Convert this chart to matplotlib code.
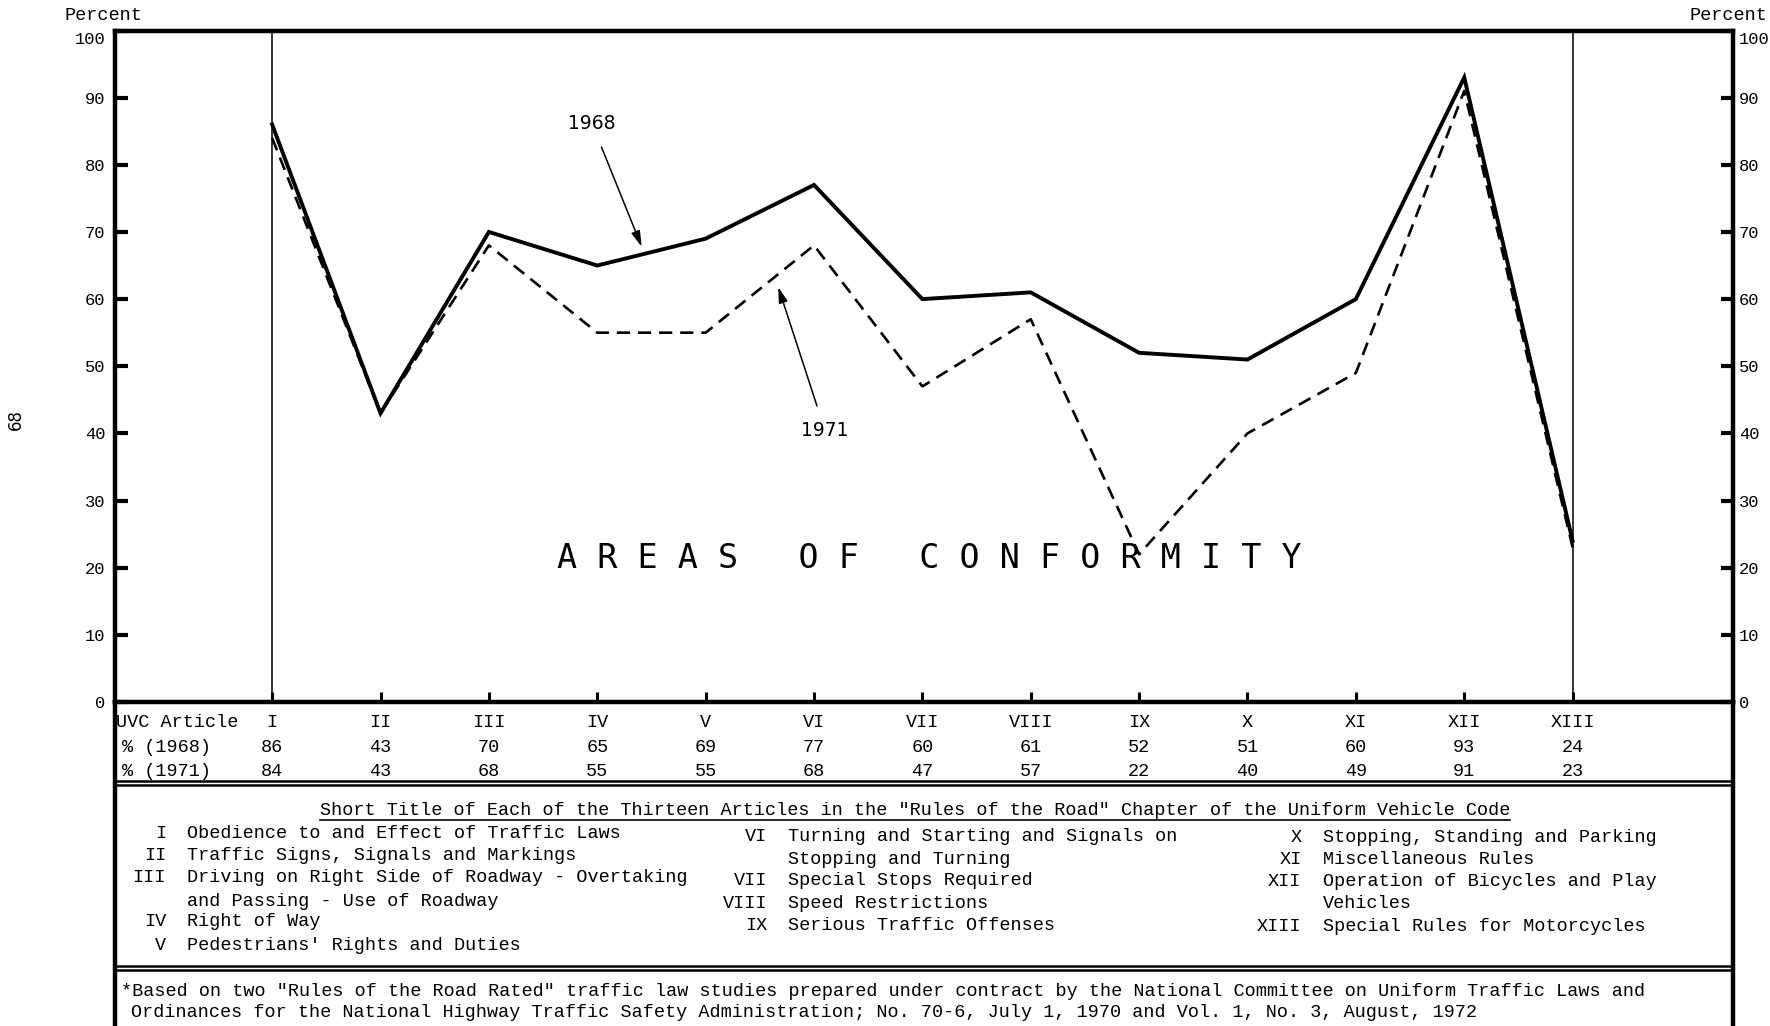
import matplotlib
matplotlib.use("Agg")
import matplotlib.pyplot as plt
from matplotlib.lines import Line2D
from matplotlib.transforms import blended_transform_factory, ScaledTranslation

# ---------------- data ----------------
articles = ["I", "II", "III", "IV", "V", "VI", "VII", "VIII", "IX", "X", "XI", "XII", "XIII"]
pct_1968 = [86, 43, 70, 65, 69, 77, 60, 61, 52, 51, 60, 93, 24]
pct_1971 = [84, 43, 68, 55, 55, 68, 47, 57, 22, 40, 49, 91, 23]
y_ticks = [0, 10, 20, 30, 40, 50, 60, 70, 80, 90, 100]

titles_col1 = [("I", "Obedience to and Effect of Traffic Laws"),
               ("II", "Traffic Signs, Signals and Markings"),
               ("III", "Driving on Right Side of Roadway - Overtaking"),
               ("", "and Passing - Use of Roadway"),
               ("IV", "Right of Way"),
               ("V", "Pedestrians' Rights and Duties")]
titles_col2 = [("VI", "Turning and Starting and Signals on"),
               ("", "Stopping and Turning"),
               ("VII", "Special Stops Required"),
               ("VIII", "Speed Restrictions"),
               ("IX", "Serious Traffic Offenses")]
titles_col3 = [("X", "Stopping, Standing and Parking"),
               ("XI", "Miscellaneous Rules"),
               ("XII", "Operation of Bicycles and Play"),
               ("", "Vehicles"),
               ("XIII", "Special Rules for Motorcycles")]
legend_title = ('Short Title of Each of the Thirteen Articles in the "Rules of the Road" '
                'Chapter of the Uniform Vehicle Code')
footnote = ['*Based on two "Rules of the Road Rated" traffic law studies prepared under contract '
            'by the National Committee on Uniform Traffic Laws and',
            'Ordinances for the National Highway Traffic Safety Administration; No. 70-6, '
            'July 1, 1970 and Vol. 1, No. 3, August, 1972']

# ---------------- figure ----------------
W, H = 1770, 1026
fig = plt.figure(figsize=(W / 100, H / 100), dpi=100)
fig.patch.set_facecolor("white")

MONO = ["Liberation Mono", "DejaVu Sans Mono"]
FS = 13.3


def fx(px):
    return px / W


def fy(py):
    return 1 - py / H


ax_left, ax_right, ax_top, ax_bot = 115, 1733, 30.5, 702
ax = fig.add_axes([fx(ax_left), fy(ax_bot), fx(ax_right - ax_left), (ax_bot - ax_top) / H])

x = list(range(len(articles)))
ax.plot(x, pct_1968, color="black", lw=2.8, solid_joinstyle="miter")
ax.plot(x, pct_1971, color="black", lw=1.9, dashes=(5, 3))
ax.axvline(0, color="black", lw=1.1)
ax.axvline(len(articles) - 1, color="black", lw=1.1)

ax.set_xlim(-1.45, 13.48)
ax.set_ylim(0, 100)
for s in ax.spines.values():
    s.set_linewidth(3.2)
ax.set_yticks(y_ticks)
ax.set_yticklabels([str(v) for v in y_ticks], fontfamily=MONO, fontsize=12.3)
ax.tick_params(axis="y", direction="in", length=9, width=3, left=True, right=True,
               labelleft=True, labelright=True, pad=7)
ax.set_xticks(x)
ax.set_xticklabels([])
ax.tick_params(axis="x", direction="in", length=7, width=2.2)

# right-hand labels sit closer to the frame; the "100" labels sit a little lower
ticks = ax.yaxis.get_major_ticks()
for i, tk in enumerate(ticks):
    dy = -7 / 100 if i == len(ticks) - 1 else 0
    tk.label1.set_transform(tk.label1.get_transform() +
                            ScaledTranslation(0, dy, fig.dpi_scale_trans))
    tk.label2.set_transform(tk.label2.get_transform() +
                            ScaledTranslation(-4 / 100, dy, fig.dpi_scale_trans))

# annotations
ax.annotate("1968", xy=(3.41, 67.8), xytext=(2.95, 86.2), ha="center", va="center",
            fontsize=13.5, family="DejaVu Sans",
            arrowprops=dict(arrowstyle="-|>,head_length=0.7,head_width=0.2", lw=1.1,
                            color="black", shrinkA=9, shrinkB=0))
ax.annotate("1971", xy=(4.67, 61.8), xytext=(5.10, 40.5), ha="center", va="center",
            fontsize=13.5, family="DejaVu Sans",
            arrowprops=dict(arrowstyle="-|>,head_length=0.7,head_width=0.2", lw=1.1,
                            color="black", shrinkA=9, shrinkB=0))

fig.text(fx(929), fy(558), "A R E A S   O F   C O N F O R M I T Y", ha="center", va="center",
         fontsize=24, family="DejaVu Sans Mono")

# Percent labels
fig.text(fx(103), fy(16), "Percent", ha="center", va="center", family=MONO, fontsize=FS)
fig.text(fx(1728), fy(15), "Percent", ha="center", va="center", family=MONO, fontsize=FS)

# page number
fig.text(fx(16), fy(420), "68", rotation=90, ha="center", va="center", family="DejaVu Sans",
         fontsize=12)

# ---------------- table below axis ----------------
bt = blended_transform_factory(ax.transData, fig.transFigure)
fig.text(fx(116), fy(722.5), "UVC Article", ha="left", va="center", family=MONO, fontsize=FS)
fig.text(fx(122), fy(747), "% (1968)", ha="left", va="center", family=MONO, fontsize=FS)
fig.text(fx(122), fy(771), "% (1971)", ha="left", va="center", family=MONO, fontsize=FS)
for i, art in enumerate(articles):
    fig.text(i, fy(722.5), art, transform=bt, ha="center", va="center", family=MONO, fontsize=FS)
    fig.text(i, fy(747), str(pct_1968[i]), transform=bt, ha="center", va="center", family=MONO,
             fontsize=FS)
    fig.text(i, fy(771), str(pct_1971[i]), transform=bt, ha="center", va="center", family=MONO,
             fontsize=FS)


def hline(py, lw=1.8):
    fig.add_artist(Line2D([fx(ax_left), fx(ax_right)], [fy(py), fy(py)], color="black", lw=lw,
                          transform=fig.transFigure))


def vline(px, y0, y1, lw=3.2):
    fig.add_artist(Line2D([fx(px), fx(px)], [fy(y0), fy(y1)], color="black", lw=lw,
                          transform=fig.transFigure))


vline(ax_left, ax_bot, H)
vline(ax_right, ax_bot, H)
hline(781)
hline(785)
hline(965.5)
hline(969.5)

# ---------------- legend of article titles ----------------
t = fig.text(fx(915), fy(810.5), legend_title, ha="center", va="center", family=MONO, fontsize=FS)
fig.canvas.draw()
bb = t.get_window_extent(renderer=fig.canvas.get_renderer())
uy = bb.y0 - 1
fig.add_artist(Line2D([bb.x0 / W, bb.x1 / W], [uy / H, uy / H], color="black", lw=1.2,
                      transform=fig.transFigure))

rows1 = [833, 855.6, 878, 901, 922, 945]
rows2 = [836.5, 859, 880.5, 903, 925.6]
rows3 = [837.6, 859, 881.6, 904, 926.8]
for (num, txt), yy in zip(titles_col1, rows1):
    fig.text(fx(166), fy(yy), num, ha="right", va="center", family=MONO, fontsize=FS)
    fig.text(fx(187), fy(yy), txt, ha="left", va="center", family=MONO, fontsize=FS)
for (num, txt), yy in zip(titles_col2, rows2):
    fig.text(fx(767.6), fy(yy), num, ha="right", va="center", family=MONO, fontsize=FS)
    fig.text(fx(788), fy(yy), txt, ha="left", va="center", family=MONO, fontsize=FS)
for (num, txt), yy in zip(titles_col3, rows3):
    fig.text(fx(1301.5), fy(yy), num, ha="right", va="center", family=MONO, fontsize=FS)
    fig.text(fx(1323), fy(yy), txt, ha="left", va="center", family=MONO, fontsize=FS)

# ---------------- footnote ----------------
fig.text(fx(121), fy(991), footnote[0], ha="left", va="center", family=MONO, fontsize=FS)
fig.text(fx(131), fy(1012.5), footnote[1], ha="left", va="center", family=MONO, fontsize=FS)

fig.savefig("out.png", dpi=100, facecolor="white")
